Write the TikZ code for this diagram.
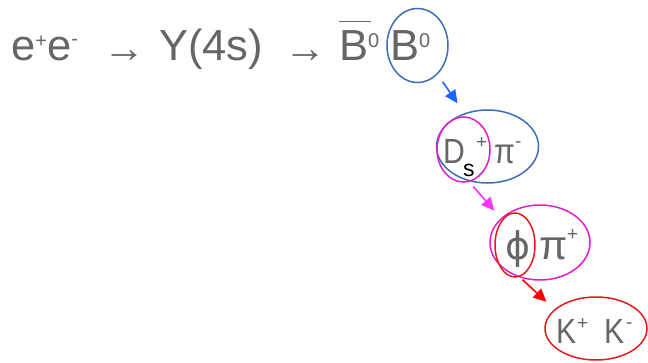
\documentclass[tikz,border=0pt]{standalone}
\usepackage{fontspec}
\setmainfont{Liberation Sans}
\newfontfamily\narrowfont{Liberation Sans}[FakeStretch=0.86]
\newfontfamily\phifont{DejaVu Sans}
\usepackage{xcolor}
\usepackage{tikz}
\usetikzlibrary{arrows.meta,shapes.geometric}
\definecolor{txtgray}{HTML}{666666}
\definecolor{ringblue}{HTML}{3D6DB5}
\definecolor{arrblue}{HTML}{1A66FF}
\definecolor{ringmag}{HTML}{E020C8}
\definecolor{arrmag}{HTML}{FF33FF}
\definecolor{ringred}{HTML}{E41B1B}
\definecolor{arrred}{HTML}{FF0000}

\begin{document}
\begin{tikzpicture}[x=1pt,y=-1pt,
  lbl/.style={text=txtgray,inner sep=0pt,anchor=base west},
  big/.style={lbl,font=\fontsize{43.5}{43.5}\selectfont},
  mid/.style={lbl,font=\narrowfont\fontsize{35}{35}\selectfont},
  tiny/.style={lbl,font=\fontsize{19}{19}\selectfont},
  ring/.style={draw,ellipse,inner sep=0pt,line width=1.5pt},
  decay/.style={-{Triangle[length=13pt,width=12pt]},line width=1.6pt}]
\useasboundingbox (0,0) rectangle (648,362);
% top line
\node[big] (ee) at (11,60) {e\raisebox{13pt}{\fontsize{20}{20}\selectfont +}e\raisebox{15pt}{\fontsize{20}{20}\selectfont -}};
\node[lbl,font=\fontsize{42}{42}\selectfont] (arr1) at (103,62.5) {→};
\node[big] (ys) at (159,60) {Y(4s)};
\node[lbl,font=\fontsize{42}{42}\selectfont] (arr2) at (284,62.5) {→};
\node[big] (bbar) at (339,60) {\rlap{\raisebox{38pt}{\rule{32pt}{1.5pt}}}B\raisebox{13pt}{\fontsize{20}{20}\selectfont 0}};
\node[big] (bz) at (390,60) {B\raisebox{13pt}{\fontsize{20}{20}\selectfont 0}};
% D_s pi
\node[mid] (ds) at (443,163) {D};
\node[lbl,text=black,font=\fontsize{23}{23}\selectfont] (dsub) at (463,176) {s};
\node[tiny] (dsup) at (476,148) {+};
\node[mid] (pim) at (494,163) {π};
\node[tiny] (pimsup) at (515,147) {-};
% phi pi
\node[lbl,font=\phifont\fontsize{38}{38}\selectfont] (phi) at (505,259) {ϕ};
\node[lbl,font=\fontsize{41}{41}\selectfont] (pip) at (539,259) {π};
\node[tiny] (pipsup) at (567,240) {+};
% K K
\node[mid] (kp) at (556,343) {K};
\node[tiny] (kpsup) at (577,329) {+};
\node[mid] (km) at (604,343) {K};
\node[tiny] (kmsup) at (626,328) {-};
% rings
\node[ring,draw=ringblue,minimum width=61pt,minimum height=74pt] (bring) at (417.5,45.5) {};
\node[ring,draw=ringblue,minimum width=102pt,minimum height=73pt] (dspiring) at (487.5,146.5) {};
\node[ring,draw=ringmag,minimum width=53pt,minimum height=65pt] (dsring) at (463.5,149.5) {};
\node[ring,draw=ringmag,minimum width=100pt,minimum height=75pt] (phipiring) at (540,242.5) {};
\node[ring,draw=ringred,minimum width=40pt,minimum height=64pt] (phiring) at (515,245) {};
\node[ring,draw=ringred,minimum width=102pt,minimum height=63pt] (kkring) at (596,328.5) {};
% decays
\draw[decay,arrblue,shorten <=9pt,shorten >=12pt] (bring) -- (dspiring);
\draw[decay,arrmag,shorten <=6pt,shorten >=10pt] (dsring.-80) -- (phipiring.148);
\draw[decay,arrred,shorten <=4pt,shorten >=11pt] (phiring.-82) -- (kkring.155);
\end{tikzpicture}
\end{document}
